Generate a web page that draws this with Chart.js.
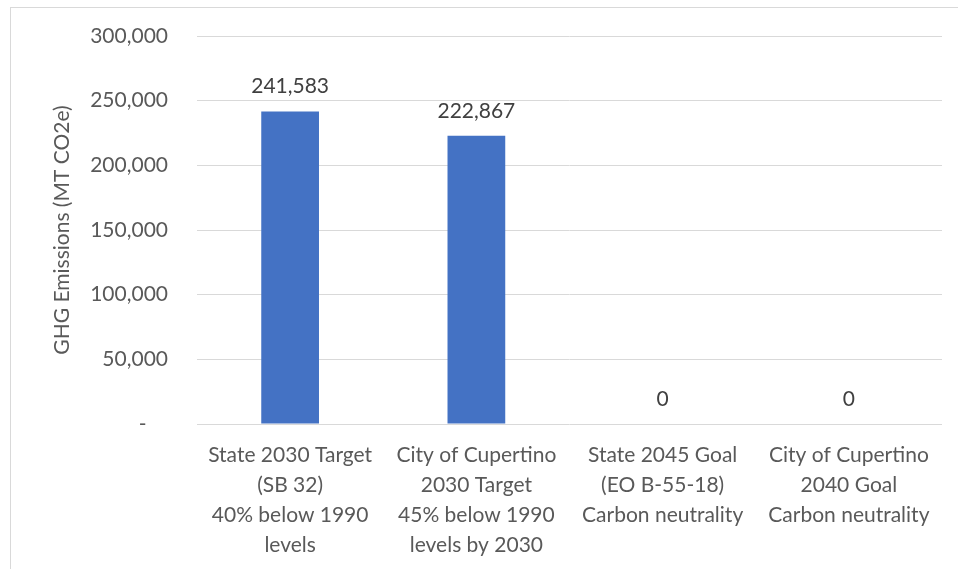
<!DOCTYPE html>
<html>
<head>
<meta charset="utf-8">
<script src="https://cdn.jsdelivr.net/npm/chart.js@4.4.0/dist/chart.umd.min.js"></script>
<style>
  html, body { margin: 0; padding: 0; background: #ffffff; }
  #wrap { position: relative; width: 958px; height: 569px; overflow: hidden; }
  #frame { position: absolute; left: 10px; top: 7px; width: 960px; height: 600px; border: 1px solid #d9d9d9; box-sizing: border-box; }
  canvas { position: absolute; left: 0; top: 0; }
</style>
</head>
<body>
<div id="wrap">
  <div id="frame"></div>
  <canvas id="c" width="958" height="569"></canvas>
</div>
<script>
const categories = [
  ["State 2030 Target", "(SB 32)", "40% below 1990", "levels"],
  ["City of Cupertino", "2030 Target", "45% below 1990", "levels by 2030"],
  ["State 2045 Goal", "(EO B-55-18)", "Carbon neutrality"],
  ["City of Cupertino", "2040 Goal", "Carbon neutrality"]
];
const emissions = [241583, 222867, 0, 0];
const yTicks = [0, 50000, 100000, 150000, 200000, 250000, 300000];
const yTitle = "GHG Emissions (MT CO2e)";

const FONT = "Lato, 'Open Sans', sans-serif";

const dataLabels = {
  id: 'dataLabels',
  afterDatasetsDraw(chart) {
    const ctx = chart.ctx;
    const meta = chart.getDatasetMeta(0);
    ctx.save();
    ctx.font = "21px " + FONT;
    ctx.fillStyle = "#404040";
    ctx.textAlign = "center";
    ctx.textBaseline = "middle";
    meta.data.forEach((bar, i) => {
      const v = chart.data.datasets[0].data[i];
      ctx.fillText(v.toLocaleString('en-US'), bar.x, bar.y - 25);
    });
    ctx.restore();
  }
};

new Chart(document.getElementById('c'), {
  type: 'bar',
  data: {
    labels: categories,
    datasets: [{
      data: emissions,
      backgroundColor: '#4472C4',
      borderWidth: 0,
      barPercentage: 0.31,
      categoryPercentage: 1.0
    }]
  },
  options: {
    responsive: false,
    animation: false,
    events: [],
    layout: { padding: { left: 50, top: 36, right: 16, bottom: 0 } },
    plugins: { legend: { display: false }, tooltip: { enabled: false } },
    scales: {
      x: {
        grid: { display: false, drawTicks: false },
        border: { display: false },
        ticks: {
          color: '#595959',
          font: { family: FONT, size: 21, lineHeight: 1.43 },
          padding: 16,
          maxRotation: 0,
          autoSkip: false
        },
        afterFit(scale) { scale.height = 145; scale.paddingLeft = 0; scale.paddingRight = 0; }
      },
      y: {
        min: 0,
        max: 300000,
        afterBuildTicks(scale) { scale.ticks = yTicks.map(v => ({ value: v })); },
        grid: { color: '#d9d9d9', lineWidth: 1, drawTicks: false },
        border: { display: false },
        ticks: {
          color: '#595959',
          font: { family: FONT, size: 21 },
          padding: 29,
          callback: (v) => v === 0 ? '-    ' : v.toLocaleString('en-US')
        },
        title: {
          display: true,
          text: yTitle,
          color: '#595959',
          font: { family: FONT, size: 21 },
          padding: 0
        },
        afterFit(scale) { scale.width = 147; scale.paddingTop = 0; scale.paddingBottom = 0; }
      }
    }
  },
  plugins: [dataLabels]
});
</script>
</body>
</html>
